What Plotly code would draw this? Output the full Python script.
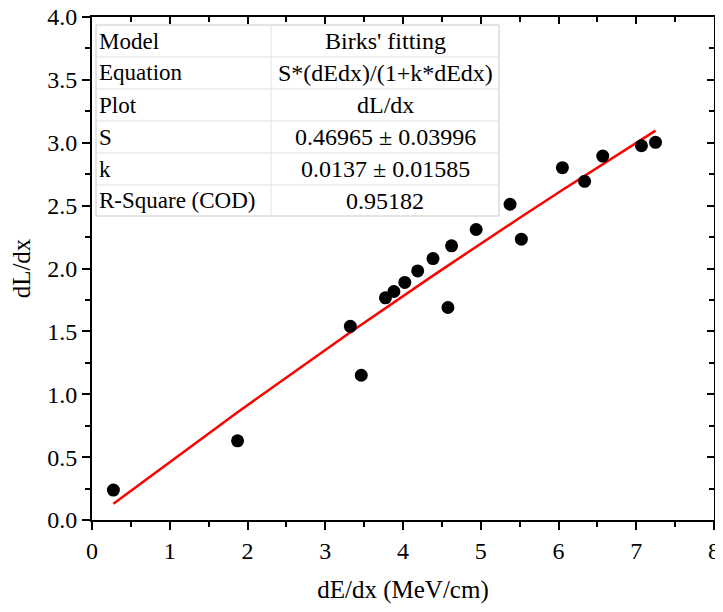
import plotly.graph_objects as go

dEdx = [0.275, 1.872, 3.323, 3.463, 3.774, 3.883, 4.023, 4.189, 4.386, 4.578,
        4.625, 4.941, 5.377, 5.522, 6.050, 6.336, 6.569, 7.067, 7.248]
dLdx = [0.238, 0.630, 1.540, 1.151, 1.767, 1.817, 1.889, 1.981, 2.079, 1.690,
        2.180, 2.310, 2.511, 2.233, 2.802, 2.693, 2.894, 2.976, 3.003]

S_fit = 0.46965
k_fit = 0.0137
table_keys = ["Model", "Equation", "Plot", "S", "k", "R-Square (COD)"]
table_vals = ["Birks' fitting", "S*(dEdx)/(1+k*dEdx)", "dL/dx",
              "0.46965 ± 0.03996", "0.0137 ± 0.01585", "0.95182"]

fit_x = sorted(dEdx)
fit_y = [S_fit * x / (1 + k_fit * x) for x in fit_x]

FONT = "Liberation Serif"
OFF = 8  # page body margin
W, H = 723 - OFF, 612 - OFF
L, R, T, B = 92 - OFF, 714 - OFF, 17 - OFF, 520 - OFF

fig = go.Figure()
fig.add_trace(go.Scatter(x=fit_x, y=fit_y, mode="lines",
                         line=dict(color="#ff0000", width=2.5), showlegend=False))
fig.add_trace(go.Scatter(x=dEdx, y=dLdx, mode="markers",
                         marker=dict(color="black", size=13), showlegend=False))

def px(xp):
    return (xp - OFF - L) / (R - L)

def py(yp):
    return (B - (yp - OFF)) / (B - T)

shapes = []
annotations = []
tx0, tx1, tcol = 96, 499, 271
rows = [25, 57, 89, 121, 153, 185, 216]
shapes.append(dict(type="rect", xref="paper", yref="paper",
                   x0=px(tx0), x1=px(tx1), y0=py(rows[-1]), y1=py(rows[0]),
                   line=dict(color="#c8c8c8", width=1), fillcolor="white", layer="above"))
shapes.append(dict(type="line", xref="paper", yref="paper",
                   x0=px(tcol), x1=px(tcol), y0=py(rows[-1]), y1=py(rows[0]),
                   line=dict(color="#e2e2e2", width=1), layer="above"))
for r in rows[1:-1]:
    shapes.append(dict(type="line", xref="paper", yref="paper",
                       x0=px(tx0), x1=px(tx1), y0=py(r), y1=py(r),
                       line=dict(color="#e2e2e2", width=1), layer="above"))
for i, (kname, val) in enumerate(zip(table_keys, table_vals)):
    yc = py((rows[i] + rows[i + 1]) / 2)
    annotations.append(dict(xref="paper", yref="paper", x=px(tx0 + 1), y=yc,
                            text=kname, showarrow=False, xanchor="left", yanchor="middle",
                            font=dict(family=FONT, size=23, color="black")))
    annotations.append(dict(xref="paper", yref="paper", x=px((tcol + tx1) / 2), y=yc,
                            text=val, showarrow=False, xanchor="center", yanchor="middle",
                            font=dict(family=FONT, size=24, color="black")))

axis_common = dict(showgrid=False, zeroline=False, showline=True, linecolor="black",
                   linewidth=1.8, tickcolor="black", tickwidth=1.8, automargin=False,
                   ticklabeloverflow="allow",
                   tickfont=dict(family=FONT, size=24, color="black"))

fig.update_layout(
    template="none",
    width=W, height=H,
    margin=dict(l=L, r=W - R, t=T, b=H - B, pad=0),
    paper_bgcolor="white", plot_bgcolor="white",
    shapes=shapes, annotations=annotations,
    xaxis=dict(range=[0, 8], dtick=1, tick0=0, ticks="outside", ticklen=8,
               minor=dict(dtick=0.5, ticks="outside", ticklen=5, tickcolor="black", tickwidth=1.8),
               title=dict(text="dE/dx (MeV/cm)", font=dict(family=FONT, size=25, color="black"),
                          standoff=18),
               **axis_common),
    yaxis=dict(range=[0, 4], dtick=0.5, tick0=0, ticks="outside", ticklen=8,
               tickformat=".1f",
               minor=dict(dtick=0.25, ticks="outside", ticklen=5, tickcolor="black", tickwidth=1.8),
               title=dict(text="dL/dx", font=dict(family=FONT, size=25, color="black"),
                          standoff=14),
               **axis_common),
    xaxis2=dict(range=[0, 8], overlaying="x", side="top", matches="x", dtick=1, tick0=0,
                ticks="inside", ticklen=7, showticklabels=False, automargin=False,
                minor=dict(dtick=0.5, ticks="inside", ticklen=5, tickcolor="black", tickwidth=1.8),
                showgrid=False, zeroline=False, showline=True, linecolor="black",
                linewidth=1.8, tickcolor="black", tickwidth=1.8),
    yaxis2=dict(range=[0, 4], overlaying="y", side="right", matches="y", dtick=0.5, tick0=0,
                ticks="inside", ticklen=7, showticklabels=False, automargin=False,
                minor=dict(dtick=0.25, ticks="inside", ticklen=5, tickcolor="black", tickwidth=1.8),
                showgrid=False, zeroline=False, showline=True, linecolor="black",
                linewidth=1.8, tickcolor="black", tickwidth=1.8),
)
fig.add_trace(go.Scatter(x=[None], y=[None], xaxis="x2", yaxis="y2", showlegend=False,
                         hoverinfo="skip"))

fig.write_html("out.html")
